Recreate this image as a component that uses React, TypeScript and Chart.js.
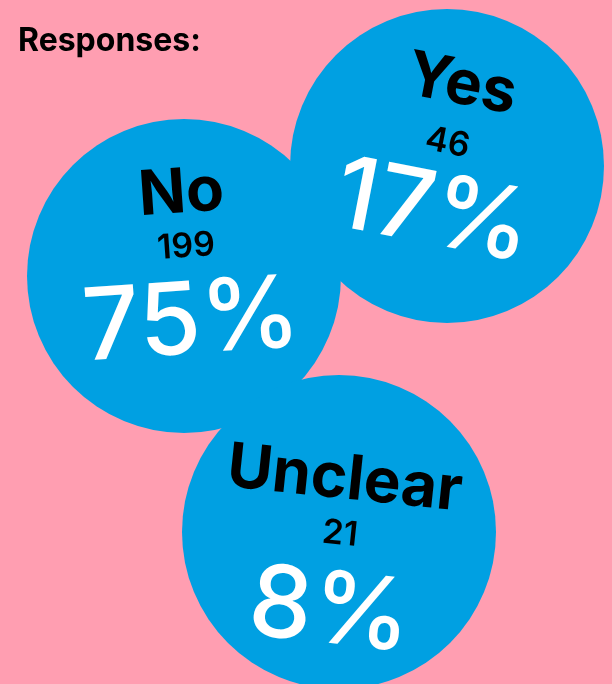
import React, { useEffect, useRef } from "react";
import { Chart, registerables } from "chart.js";

Chart.register(...registerables);

// ---- data ----
const categories: string[] = ["No", "Yes", "Unclear"];
const counts: number[] = [199, 46, 21];
const percents: number[] = [75, 17, 8];
const titleText = "Responses:";

// ---- layout / style (not data) ----
const W = 612;
const H = 684;
const BG = "#FF9EB1";
const BLUE = "#00A0E2";
const bubbleCenters = [
  { x: 184, y: 276 },
  { x: 447, y: 166 },
  { x: 339, y: 532 },
];
const BUBBLE_R = 157;
const textLayout = [
  { rot: -4, label: [2, -86], count: [3, -32], pct: [8, 41] },
  { rot: 11, label: [16, -84], count: [2, -25], pct: [-12, 42] },
  { rot: 6, label: [12, -55], count: [3, 0], pct: [-6, 75] },
];
const FONT = "Inter, 'Noto Sans', sans-serif";

function drawCentered(
  ctx: CanvasRenderingContext2D,
  text: string,
  cx: number,
  cy: number,
  rotDeg: number,
  font: string,
  color: string
) {
  ctx.save();
  ctx.font = font;
  ctx.fillStyle = color;
  ctx.textAlign = "left";
  ctx.textBaseline = "alphabetic";
  const m = ctx.measureText(text);
  const left = m.actualBoundingBoxLeft;
  const right = m.actualBoundingBoxRight;
  const asc = m.actualBoundingBoxAscent;
  const desc = m.actualBoundingBoxDescent;
  ctx.translate(cx, cy);
  ctx.rotate((rotDeg * Math.PI) / 180);
  const x = -(right - left) / 2 + left;
  const y = (asc - desc) / 2;
  ctx.fillText(text, x, y);
  ctx.restore();
}

const labelsPlugin = {
  id: "bubbleLabels",
  afterDatasetsDraw(chart: any) {
    const ctx: CanvasRenderingContext2D = chart.ctx;
    const meta = chart.getDatasetMeta(0);
    meta.data.forEach((el: any, i: number) => {
      const t = textLayout[i];
      drawCentered(ctx, categories[i], el.x + t.label[0], el.y + t.label[1], t.rot, `700 62px ${FONT}`, "#000000");
      drawCentered(ctx, String(counts[i]), el.x + t.count[0], el.y + t.count[1], t.rot, `600 34px ${FONT}`, "#000000");
      drawCentered(ctx, `${percents[i]}%`, el.x + t.pct[0], el.y + t.pct[1], t.rot, `500 100px ${FONT}`, "#FFFFFF");
    });
    ctx.save();
    ctx.font = `700 32px ${FONT}`;
    ctx.fillStyle = "#000000";
    ctx.textAlign = "left";
    ctx.textBaseline = "alphabetic";
    ctx.fillText(titleText, 18, 51);
    ctx.restore();
  },
};

export default function App() {
  const ref = useRef<HTMLCanvasElement | null>(null);
  useEffect(() => {
    if (!ref.current) return;
    const chart = new Chart(ref.current, {
      type: "bubble",
      data: {
        labels: categories,
        datasets: [
          {
            label: "Responses",
            data: categories.map((_, i) => ({
              x: bubbleCenters[i].x,
              y: bubbleCenters[i].y,
              r: BUBBLE_R,
            })),
            backgroundColor: BLUE,
            borderWidth: 0,
            hoverBorderWidth: 0,
          },
        ],
      },
      options: {
        animation: false,
        responsive: false,
        maintainAspectRatio: false,
        layout: { padding: 0, autoPadding: false } as any,
        clip: false as any,
        scales: {
          x: { type: "linear", min: 0, max: W, display: false },
          y: { type: "linear", min: 0, max: H, reverse: true, display: false },
        },
        plugins: {
          legend: { display: false },
          tooltip: { enabled: false },
          title: { display: false },
        },
        events: [],
      },
      plugins: [labelsPlugin],
    });
    return () => chart.destroy();
  }, []);
  return (
    <div
      style={{
        position: "absolute",
        left: 0,
        top: 0,
        width: W,
        height: H,
        background: BG,
        overflow: "hidden",
      }}
    >
      <canvas ref={ref} width={W} height={H} style={{ display: "block", width: W, height: H }} />
    </div>
  );
}
